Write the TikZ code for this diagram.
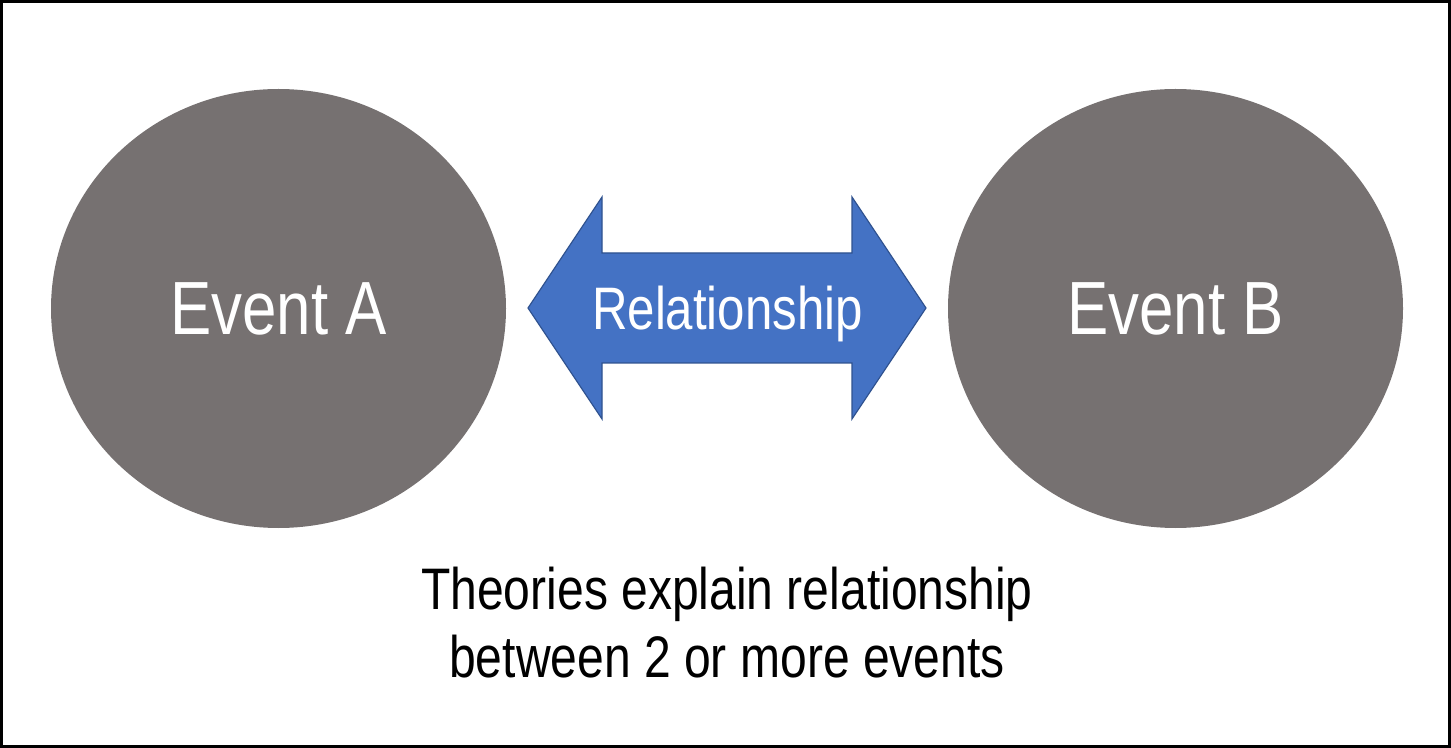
\documentclass[tikz,border=0pt]{standalone}
\usepackage{fontspec}
\setmainfont{Liberation Sans}[FakeStretch=0.82]
\usetikzlibrary{shapes.geometric}
\definecolor{eventgrey}{HTML}{767171}
\definecolor{relblue}{HTML}{4472C4}
\definecolor{reledge}{HTML}{2F528F}

\begin{document}
\begin{tikzpicture}[x=0.5pt, y=-0.5pt,
    event/.style={ellipse, fill=eventgrey, text=white, inner sep=0pt,
      minimum width=227.5pt, minimum height=219.5pt,
      font=\fontsize{37.7}{42}\selectfont},
    relarrow/.style={fill=relblue, draw=reledge, line width=0.6pt, line join=miter}]
    \useasboundingbox (0,0) rectangle (1451,748);
    \draw[line width=1.5pt] (1.5,1.5) rectangle (1449.5,746.5);
    % the two events
    \node[event] (evA) at (278.5,308.5) {Event A};
    \node[event] (evB) at (1175.5,308.5) {Event B};
    % double arrow between them
    \draw[relarrow] (528,308) -- (602,197) -- (602,253) -- (852,253) -- (852,197)
      -- (926,308) -- (852,419) -- (852,363) -- (602,363) -- (602,419) -- cycle;
    \node[anchor=base, text=white, inner sep=0pt, font=\fontsize{30}{34}\selectfont]
      (rel) at (727.5,330) {Relationship};
    \node[align=center, inner sep=0pt, font=\fontsize{29.3}{34}\selectfont]
      (theory) at (727,623) {Theories explain relationship\\between 2 or more events};
\end{tikzpicture}
\end{document}
